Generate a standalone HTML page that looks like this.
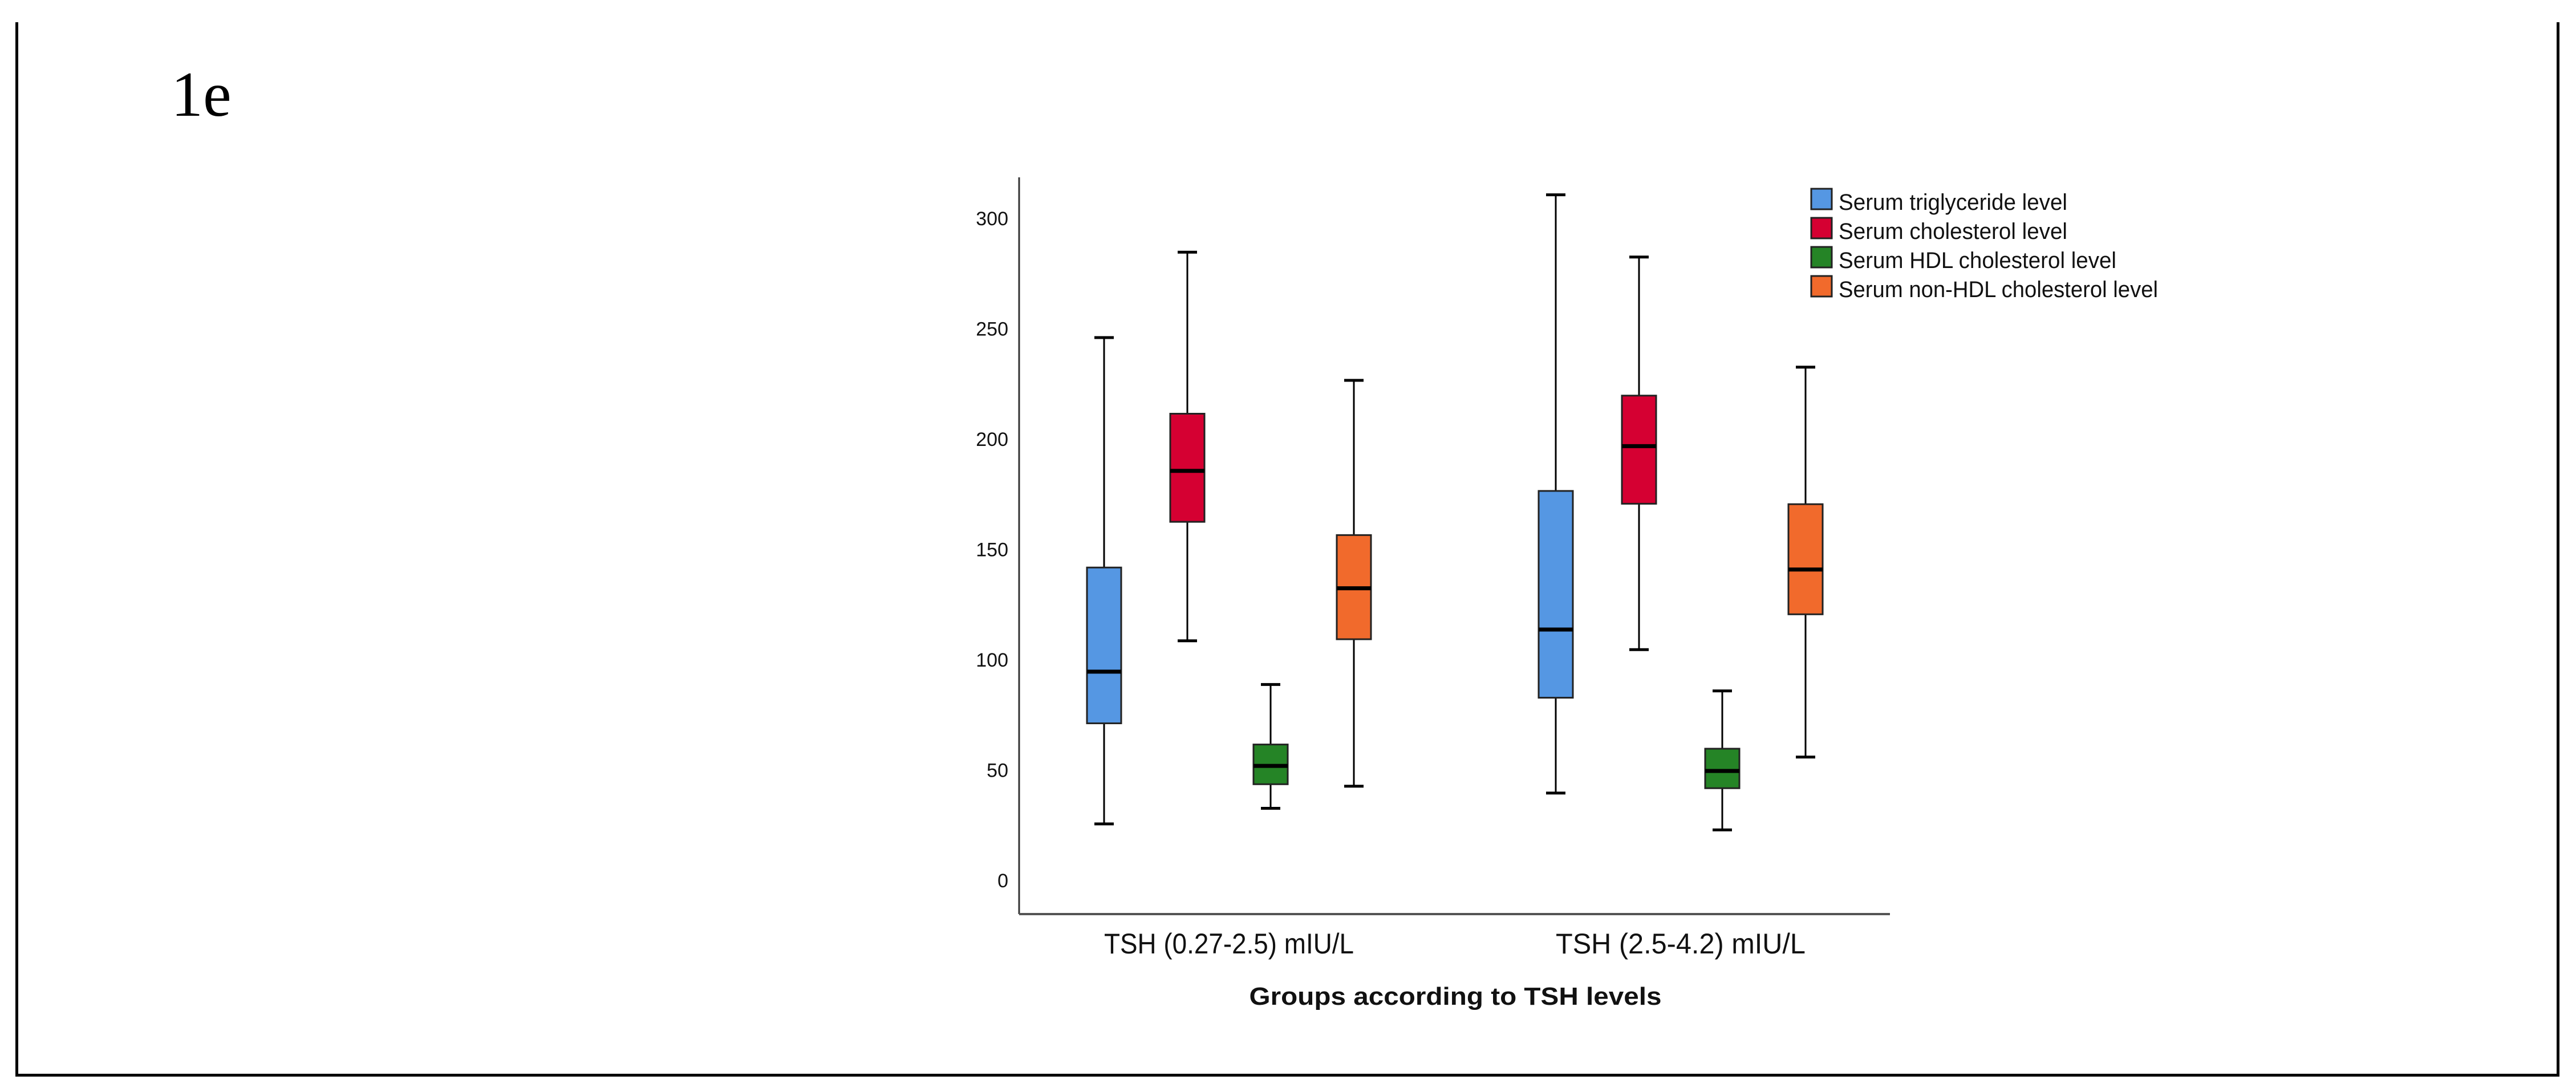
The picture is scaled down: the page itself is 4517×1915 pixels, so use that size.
<!DOCTYPE html>
<html><head><meta charset="utf-8"><style>
html,body{margin:0;padding:0;background:#fff;}
svg{display:block;}
text{font-family:"Liberation Sans",Arial,sans-serif;}
</style></head><body>
<svg id="chart" width="4517" height="1915" viewBox="0 0 4517 1915" xmlns="http://www.w3.org/2000/svg">
<rect x="0" y="0" width="4517" height="1915" fill="#fff"/>
<g>
<rect x="27" y="39" width="5" height="1849" fill="#000"/>
<rect x="4483" y="39" width="5" height="1849" fill="#000"/>
<rect x="27" y="1883" width="4461" height="5" fill="#000"/>
</g>
<text x="300" y="203" style="font-family:'Liberation Serif',serif" font-size="112" fill="#000">1e</text>
<g id="plot"></g>
<g id="legend"></g>
</svg>
<script>
const categories = ["TSH (0.27-2.5) mIU/L", "TSH (2.5-4.2) mIU/L"];
const seriesNames = ["Serum triglyceride level", "Serum cholesterol level", "Serum HDL cholesterol level", "Serum non-HDL cholesterol level"];
const seriesColors = ["#5597e3", "#d50032", "#258426", "#f16a2c"];
// each entry: [min, q1, median, q3, max] per category
const trigStats = [[25.6, 71.2, 94.6, 141.8, 246], [39.6, 82.8, 113.7, 176.5, 310.7]];
const cholStats = [[108.6, 162.5, 185.6, 211.5, 284.7], [104.6, 170.7, 196.8, 219.7, 282.5]];
const hdlStats = [[32.7, 43.6, 51.9, 61.6, 88.8], [22.9, 41.8, 49.6, 59.7, 85.9]];
const nonHdlStats = [[42.7, 109.3, 132.4, 156.5, 226.6], [55.9, 120.6, 140.9, 170.5, 232.6]];
const yTicks = [0, 50, 100, 150, 200, 250, 300];
const xTitle = "Groups according to TSH levels";

const NS = "http://www.w3.org/2000/svg";
const plot = document.getElementById('plot');
const legend = document.getElementById('legend');
const allStats = [trigStats, cholStats, hdlStats, nonHdlStats];
const axX = 1787, axTop = 311, axBottom = 1603, axRight = 3314;
const y0px = 1544, y300px = 383;
function yScale(v){ return y0px + (y300px - y0px) * v / 300; }
const groupStart = [1936, 2728], seriesStep = 146;
function xScale(ci, si){ return groupStart[0] + ci * (groupStart[1] - groupStart[0]) + si * seriesStep; }
function mk(tag, attrs, parent){ const e = document.createElementNS(NS, tag); for (const k in attrs) e.setAttribute(k, attrs[k]); parent.appendChild(e); return e; }

let yAxis = mk('line', {x1: axX, y1: axTop, x2: axX, y2: axBottom, stroke: '#333', 'stroke-width': 3}, plot);


let xAxis = mk('line', {x1: axX, y1: axBottom, x2: axRight, y2: axBottom, stroke: '#555', 'stroke-width': 4}, plot);



yTicks.forEach(t => {
  const tx = mk('text', {x: 1768, y: yScale(t) + 12, 'font-size': 34, 'text-anchor': 'end', fill: '#111'}, plot);
  tx.textContent = String(t);
  
  
});

categories.forEach((c, ci) => {
  const cx = (xScale(ci, 0) + xScale(ci, 3)) / 2;
  const tx = mk('text', {x: cx, y: 1672, 'font-size': 50, 'text-anchor': 'middle', fill: '#111', textLength: 438, lengthAdjust: 'spacingAndGlyphs'}, plot);
  tx.textContent = c;
  
  
});
const xt = mk('text', {x: 2552, y: 1762, 'font-size': 44, 'font-weight': 'bold', 'text-anchor': 'middle', fill: '#111', textLength: 723, lengthAdjust: 'spacingAndGlyphs'}, plot);
xt.textContent = xTitle;



const bw = 60, cw = 34;
allStats.forEach((stats, si) => {
  stats.forEach((s, ci) => {
    const cx = xScale(ci, si);
    const g = mk('g', {}, plot);
    
    
    mk('line', {x1: cx, y1: yScale(s[0]), x2: cx, y2: yScale(s[4]), stroke: '#000', 'stroke-width': 3}, g);
    mk('line', {x1: cx - cw/2, y1: yScale(s[4]), x2: cx + cw/2, y2: yScale(s[4]), stroke: '#000', 'stroke-width': 5}, g);
    mk('line', {x1: cx - cw/2, y1: yScale(s[0]), x2: cx + cw/2, y2: yScale(s[0]), stroke: '#000', 'stroke-width': 5}, g);
    mk('rect', {x: cx - bw/2, y: yScale(s[3]), width: bw, height: yScale(s[1]) - yScale(s[3]), fill: seriesColors[si], stroke: '#222', 'stroke-width': 3}, g);
    mk('line', {x1: cx - bw/2, y1: yScale(s[2]), x2: cx + bw/2, y2: yScale(s[2]), stroke: '#000', 'stroke-width': 7}, g);
  });
});

seriesNames.forEach((n, i) => {
  const y = 331 + i * 51;
  const g = mk('g', {}, legend);
  
  
  mk('rect', {x: 3176, y: y, width: 36, height: 36, fill: seriesColors[i], stroke: '#222', 'stroke-width': 3}, g);
  const lens = [401, 401, 487, 560];
  const tx = mk('text', {x: 3224, y: y + 37, 'font-size': 40, fill: '#111', textLength: lens[i], lengthAdjust: 'spacingAndGlyphs'}, g);
  tx.textContent = n;
});
</script>
</body></html>
